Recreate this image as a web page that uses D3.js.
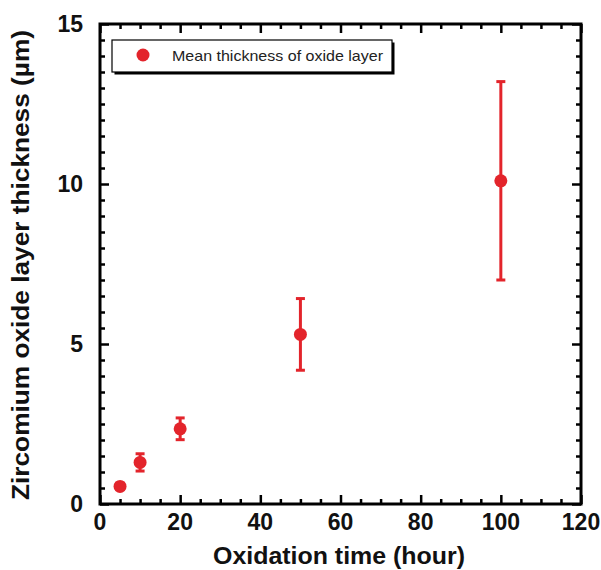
<!DOCTYPE html>
<html>
<head>
<meta charset="utf-8">
<script src="https://cdn.jsdelivr.net/npm/d3@7"></script>
<style>
  body { margin:0; background:#fff; }
  svg text { font-family: Arial, "Liberation Sans", sans-serif; }
</style>
</head>
<body>
<div id="chart"></div>
<script>
// oxidation time (hour) vs mean oxide thickness (µm)
const hours     = [5, 10, 20, 50, 100];
const thickness = [0.55, 1.3, 2.35, 5.3, 10.1];
const errors    = [0.1, 0.27, 0.34, 1.12, 3.1];
const xTicks    = [0, 20, 40, 60, 80, 100, 120];
const yTicks    = [0, 5, 10, 15];
const legendLabel = 'Mean thickness of oxide layer';

const W = 601, H = 570;
const M = {top:24, right:20, bottom:66, left:100};
const RED = '#e3242b';

const svg = d3.select('#chart').append('svg')
  .attr('width', W).attr('height', H);

const x = d3.scaleLinear().domain([0,120]).range([M.left, W-M.right]);
const y = d3.scaleLinear().domain([0,15]).range([H-M.bottom, M.top]);

const minorX = d3.range(0,121,5).filter(v=>v%20);
const minorY = d3.range(0,15.01,0.5).filter(v=>v%5);

/* ---- inward ticks on all 4 sides ---- */
function ticks(axis, vals, len, tr){
  const g = svg.append('g').attr('transform', tr)
     .call(axis.tickValues(vals).tickSize(-len).tickFormat(''));
  g.select('.domain').remove();
  g.selectAll('line').attr('stroke','#000').attr('stroke-width',2.5);
}
[[minorX,5],[xTicks,9]].forEach(([v,l])=>{
  ticks(d3.axisBottom(x), v, l, `translate(0,${H-M.bottom})`);
  ticks(d3.axisTop(x),    v, l, `translate(0,${M.top})`);
});
[[minorY,5],[yTicks,9]].forEach(([v,l])=>{
  ticks(d3.axisLeft(y),  v, l, `translate(${M.left},0)`);
  ticks(d3.axisRight(y), v, l, `translate(${W-M.right},0)`);
});

/* ---- frame ---- */
svg.append('rect')
   .attr('x', M.left).attr('y', M.top)
   .attr('width', W-M.left-M.right).attr('height', H-M.top-M.bottom)
   .attr('fill','none').attr('stroke','#000').attr('stroke-width',3);

/* ---- tick labels ---- */
svg.append('g').selectAll('text').data(xTicks).enter().append('text')
   .attr('x', d=>x(d)).attr('y', H-M.bottom+26)
   .attr('text-anchor','middle')
   .attr('font-size',23).attr('font-weight','bold').attr('fill','#111')
   .text(d=>d);
svg.append('g').selectAll('text').data(yTicks).enter().append('text')
   .attr('x', M.left-17).attr('y', d=>y(d)+8)
   .attr('text-anchor','end')
   .attr('font-size',23).attr('font-weight','bold').attr('fill','#111')
   .text(d=>d);

/* ---- axis titles ---- */
svg.append('text')
   .attr('x', 339).attr('y', H-6)
   .attr('text-anchor','middle')
   .attr('font-size',23).attr('font-weight','bold').attr('fill','#111')
   .attr('textLength',252).attr('lengthAdjust','spacingAndGlyphs')
   .text('Oxidation time (hour)');
svg.append('text')
   .attr('transform', `translate(29,265) rotate(-90)`)
   .attr('text-anchor','middle')
   .attr('font-size',23).attr('font-weight','bold').attr('fill','#111')
   .attr('textLength',470).attr('lengthAdjust','spacingAndGlyphs')
   .text('Zircomium oxide layer thickness (\u00b5m)');

/* ---- error bars + points ---- */
const pts = hours.map((h,i)=>({h, v:thickness[i], e:errors[i]}));
const eb = svg.append('g').attr('stroke',RED).attr('stroke-width',3);
pts.forEach(d=>{
  eb.append('line').attr('x1',x(d.h)).attr('x2',x(d.h))
    .attr('y1',y(d.v-d.e)).attr('y2',y(d.v+d.e));
  [d.v-d.e, d.v+d.e].forEach(t=>{
    eb.append('line').attr('x1',x(d.h)-4.5).attr('x2',x(d.h)+4.5)
      .attr('y1',y(t)).attr('y2',y(t));
  });
});
svg.append('g').selectAll('circle').data(pts).enter().append('circle')
   .attr('cx',d=>x(d.h)).attr('cy',d=>y(d.v))
   .attr('r',6.5).attr('fill',RED);

/* ---- legend ---- */
const lg = svg.append('g').attr('transform','translate(112,40)');
lg.append('rect').attr('x',2.5).attr('y',2.5).attr('width',280).attr('height',32)
  .attr('fill','#000');
lg.append('rect').attr('width',280).attr('height',32)
  .attr('fill','#fff').attr('stroke','#000').attr('stroke-width',1.2);
lg.append('circle').attr('cx',31).attr('cy',15).attr('r',6.5).attr('fill',RED);
lg.append('text').attr('x',60).attr('y',20.5)
  .attr('font-size',15).attr('fill','#222')
  .attr('textLength',211).attr('lengthAdjust','spacingAndGlyphs')
  .text(legendLabel);
</script>
</body>
</html>
